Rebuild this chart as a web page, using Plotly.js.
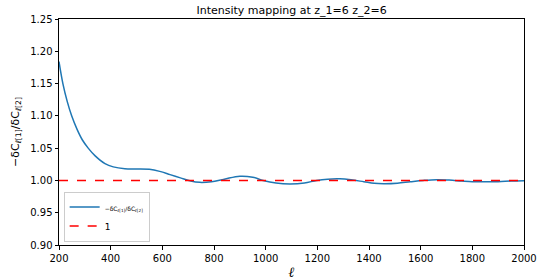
<!DOCTYPE html>
<html>
<head>
<meta charset="utf-8">
<script src="https://cdn.plot.ly/plotly-3.0.1.min.js"></script>
<style>html,body{margin:0;padding:0;background:#fff;}#chart{width:541px;height:280px;}</style>
</head>
<body>
<div id="chart"></div>
<script>
const ell = [200, 215, 232, 249, 270, 290, 313, 340, 378, 410, 455, 500, 550, 590, 630, 670, 710, 745, 790, 840, 900, 950, 990, 1040, 1094, 1150, 1197, 1240, 1287, 1330, 1380, 1420, 1461, 1510, 1560, 1610, 1661, 1710, 1760, 1800, 1840, 1900, 1950, 2000];
const ratio = [1.184, 1.150, 1.122, 1.100, 1.079, 1.063, 1.050, 1.038, 1.026, 1.021, 1.0182, 1.0178, 1.0172, 1.014, 1.009, 1.004, 0.999, 0.997, 0.998, 1.002, 1.0065, 1.005, 1.000, 0.996, 0.9945, 0.996, 1.000, 1.002, 1.0025, 1.001, 0.998, 0.9955, 0.995, 0.9958, 0.998, 1.000, 1.0012, 1.0005, 0.999, 0.998, 0.9978, 0.998, 0.999, 0.9995];
const refEll = [200, 2000];
const refVal = [1, 1];
const xTicks = [200, 400, 600, 800, 1000, 1200, 1400, 1600, 1800, 2000];
const yTicks = [0.90, 0.95, 1.00, 1.05, 1.10, 1.15, 1.20, 1.25];

const font = {family: 'DejaVu Sans, sans-serif', size: 10, color: '#000'};
const traces = [
  {x: ell, y: ratio, type: 'scatter', mode: 'lines', line: {color: '#1f77b4', width: 1.5, shape: 'spline', smoothing: 1},
   name: '<span style="font-size:6px">−δC<sub>ℓ[1]</sub>/δC<sub>ℓ[2]</sub></span>'},
  {x: refEll, y: refVal, type: 'scatter', mode: 'lines', line: {color: 'red', width: 1.5, dash: 'dash'}, name: '1'}
];
const axisCommon = {showline: true, mirror: true, linecolor: '#000', linewidth: 1, ticks: 'outside', ticklen: 3.5, tickwidth: 1, tickcolor: '#000', showgrid: false, zeroline: false, tickfont: font};
const layout = {
  width: 541, height: 280,
  margin: {l: 59, r: 17, t: 19, b: 35, pad: 0},
  paper_bgcolor: '#fff', plot_bgcolor: '#fff',
  font: font,
  title: {text: 'Intensity mapping at z_1=6 z_2=6', font: {family: 'DejaVu Sans, sans-serif', size: 11, color: '#000'}, x: 0.539, xanchor: 'center', y: 0.962, yanchor: 'middle'},
  xaxis: Object.assign({}, axisCommon, {range: [200, 2000], tickvals: xTicks, ticktext: xTicks.map(String),
    title: {text: '<i>ℓ</i>', font: {family: 'DejaVu Serif, serif', size: 14, color: '#000'}, standoff: 4}}),
  yaxis: Object.assign({}, axisCommon, {range: [0.90, 1.25], tickvals: yTicks, ticktext: yTicks.map(v => v.toFixed(2)),
    title: {text: '−δC<sub>ℓ[1]</sub>/δC<sub>ℓ[2]</sub>', font: {family: 'DejaVu Sans, sans-serif', size: 11, color: '#000'}, standoff: 8}}),
  showlegend: true,
  legend: {x: 0.01, y: 0.015, xanchor: 'left', yanchor: 'bottom', bgcolor: 'rgba(255,255,255,0.8)', bordercolor: '#ccc', borderwidth: 1,
    font: {family: 'DejaVu Sans, sans-serif', size: 9, color: '#000'}, itemwidth: 30, tracegroupgap: 0}
};
Plotly.newPlot('chart', traces, layout, {displayModeBar: false, staticPlot: true});
</script>
</body>
</html>
